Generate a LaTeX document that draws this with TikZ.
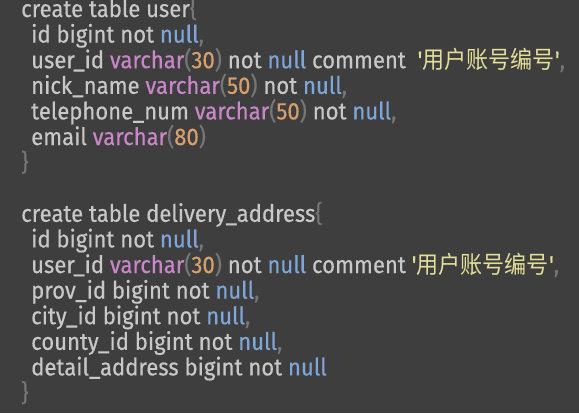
\documentclass[tikz,border=0pt]{standalone}
\usepackage{fontspec}
\setmainfont{Fira Sans}[Ligatures=TeXOff,FakeStretch=0.92,FakeBold=0.4]
\newfontfamily\cjk{Noto Sans CJK SC}[FakeStretch=0.92]
\usetikzlibrary{positioning}

\definecolor{codebg}{HTML}{3E3E3E}
\definecolor{codegray}{HTML}{C8C8C8}
\definecolor{punctgray}{HTML}{767676}
\definecolor{nullblue}{HTML}{7EA6D8}
\definecolor{typepink}{HTML}{C987C9}
\definecolor{numorange}{HTML}{D5A06E}
\definecolor{stryellow}{HTML}{E3DE98}

\newcommand{\nul}{\textcolor{nullblue}{null}}
\newcommand{\vchar}[1]{\textcolor{typepink}{varchar}\textcolor{punctgray}{(}\textcolor{numorange}{#1}\textcolor{punctgray}{)}}
\newcommand{\cm}{\textcolor{punctgray}{,}}
\newcommand{\str}[1]{\textcolor{stryellow}{'{\cjk #1}'}}

\begin{document}
\begin{tikzpicture}[x=1pt,y=-1pt,
    code/.style={anchor=base west,inner sep=0pt,text=codegray,font=\fontsize{24}{25}\selectfont}]
        \fill[codebg] (0,0) rectangle (579,413);
        \useasboundingbox (0,0) rectangle (579,413);

        % table user
        \node[code] (user0) at (21,17) {create table user\textcolor{punctgray}{\{}};
        \node[code] (user1) at (31,42.6) {id bigint not \nul\cm};
        \node[code] (user2) at (31,68.2) {user\_id \vchar{30} not \nul{} comment\ \ \str{用户账号编号}\cm};
        \node[code] (user3) at (31,93.8) {nick\_name \vchar{50} not \nul\cm};
        \node[code] (user4) at (31,119.4) {telephone\_num \vchar{50} not \nul\cm};
        \node[code] (user5) at (31,145) {email \vchar{80}};
        \node[code] (user6) at (21,170.6) {\textcolor{punctgray}{\}}};

        % table delivery_address
        \node[code] (addr0) at (21,221.8) {create table delivery\_address\textcolor{punctgray}{\{}};
        \node[code] (addr1) at (31,247.4) {id bigint not \nul\cm};
        \node[code] (addr2) at (31,273) {user\_id \vchar{30} not \nul{} comment \str{用户账号编号}\cm};
        \node[code] (addr3) at (31,298.6) {prov\_id bigint not \nul\cm};
        \node[code] (addr4) at (31,324.2) {city\_id bigint not \nul\cm};
        \node[code] (addr5) at (31,349.8) {county\_id bigint not \nul\cm};
        \node[code] (addr6) at (31,375.4) {detail\_address bigint not \nul};
        \node[code] (addr7) at (21,401) {\textcolor{punctgray}{\}}};
\end{tikzpicture}
\end{document}
